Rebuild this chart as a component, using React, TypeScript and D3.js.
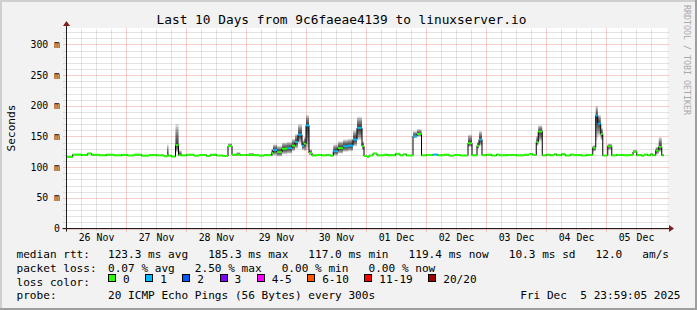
import React from "react";
import * as d3 from "d3";

// ---------- DATA ----------
const titleText = "Last 10 Days from 9c6faeae4139 to linuxserver.io";
const yAxisLabel = "Seconds";
const watermark = "RRDTOOL / TOBI OETIKER";

const startDate = new Date(2025, 10, 26, 0, 0, 0);
const endDate = new Date(2025, 11, 6, 0, 0, 0);

// step segments: start hour (since 26 Nov 00:00), median rtt (ms), lost pings (of 20), smoke spread up/down (ms)
const segStart = [
  0, 2.5, 6, 8.5, 10, 13, 16, 19, 22, 24.5, 27, 30, 33, 36, 39, 40.2, 40.8, 42, 43.6, 44.8,
  46, 48, 51, 53, 56, 57.5, 60, 62.5, 64.6, 66.2, 68, 69.5, 72, 73, 75, 77, 79, 82, 82.6, 84.2,
  86.2, 88.2, 90.2, 91.4, 92.6, 94.2, 95.0, 95.8, 97.0, 98.2, 100.2, 102, 104, 105.5, 106.7, 108.6, 110.6, 112.6, 114.6, 116.2,
  118.2, 119.0, 120.2, 121, 122.6, 124.2, 127, 128.5, 131.6, 133.4, 134.6, 136, 138.6, 140.2, 142, 144, 146.5, 148.5, 151, 153,
  155, 157.5, 160.6, 162.2, 164.2, 165.0, 166.2, 168, 170, 172, 173, 176, 180, 183, 185, 186.5, 187.9, 188.7, 190.3, 192,
  193.5, 195, 196, 198, 199.5, 201.5, 203, 206, 208, 210.5, 211.7, 212.5, 213.7, 214.5, 216.5, 218.1, 220, 223, 225, 226.6,
  228.1, 230, 231, 232.5, 233.6, 234.5, 235.7, 236.9, 238.1,
];
const segEndHour = 238.9;
const segMedian = [
  116.8, 120.5, 119.8, 122.3, 120.2, 119.3, 120.3, 119.2, 120.0, 119.0, 120.3, 118.8, 119.6, 119.2, 117.8, 119.0, 118.8, 117.3, 136.0, 119.5,
  119.2, 120.3, 118.8, 119.8, 118.3, 120.0, 119.0, 118.2, 134.5, 120.3, 120.3, 119.8, 120.0, 120.0, 119.5, 118.8, 119.6, 123.0, 128.0, 124.5,
  130.0, 131.0, 135.0, 141.0, 153.0, 135.0, 138.0, 168.0, 123.0, 119.0, 119.8, 119.2, 119.9, 118.8, 126.0, 131.0, 134.0, 135.0, 145.0, 164.0,
  134.0, 118.3, 116.5, 119.0, 122.3, 119.2, 120.3, 119.3, 121.8, 119.2, 120.8, 119.0, 150.5, 154.0, 119.2, 119.8, 120.5, 119.3, 120.3, 118.8,
  119.8, 119.0, 139.0, 119.3, 135.0, 145.0, 119.5, 120.2, 119.0, 120.6, 119.3, 119.6, 119.2, 120.2, 121.3, 119.8, 141.0, 158.0, 119.2, 120.3,
  119.3, 121.0, 119.6, 121.0, 119.0, 120.5, 119.6, 119.0, 120.0, 131.6, 184.0, 171.0, 154.0, 119.0, 134.0, 119.2, 120.0, 119.3, 120.0, 125.0,
  119.5, 118.8, 120.5, 119.2, 121.0, 119.3, 127.0, 133.0, 119.4,
];
const segLoss = [
  0, 0, 0, 0, 0, 0, 0, 0, 0, 0, 0, 0, 0, 0, 0, 0, 0, 0, 0, 0,
  0, 0, 0, 0, 0, 0, 0, 0, 0, 0, 0, 0, 0, 0, 0, 0, 0, 0, 1, 0,
  0, 1, 0, 1, 1, 1, 0, 1, 0, 0, 0, 0, 0, 0, 1, 0, 1, 1, 1, 1,
  0, 0, 0, 0, 0, 0, 0, 0, 0, 0, 0, 0, 1, 0, 0, 0, 1, 0, 0, 0,
  0, 0, 0, 0, 0, 1, 0, 0, 0, 0, 0, 0, 0, 0, 0, 0, 0, 0, 0, 0,
  0, 0, 0, 0, 0, 0, 0, 0, 0, 0, 1, 1, 0, 0, 0, 0, 0, 0, 0, 0,
  0, 0, 0, 0, 0, 0, 0, 0, 0,
];
const segUp = [
  1, 1, 1, 1, 1, 1, 1, 1, 1, 1, 1, 1, 1, 1, 1, 18, 1, 1, 34, 8,
  1, 1, 1, 1, 1, 2, 1, 1, 4, 1, 4, 1, 1, 3, 1, 1, 1, 7, 9, 10,
  10, 10, 11, 13, 17, 9, 11, 17, 6, 2, 1, 1, 1, 1, 11, 11, 11, 11, 15, 18,
  8, 2, 1, 1, 1, 1, 1, 1, 1, 1, 1, 1, 8, 8, 1, 1, 1, 1, 1, 1,
  1, 1, 14, 1, 6, 14, 1, 1, 1, 1, 1, 1, 1, 1, 1, 1, 10, 10, 1, 1,
  1, 1, 1, 1, 1, 1, 1, 1, 1, 4, 16, 14, 10, 1, 4, 1, 1, 1, 1, 3,
  1, 1, 1, 1, 1, 1, 6, 16, 1,
];
const segDown = [
  1, 1, 1, 1, 1, 1, 1, 1, 1, 1, 1, 1, 1, 1, 1, 2, 1, 1, 12, 1,
  1, 1, 1, 1, 1, 1, 1, 1, 2, 1, 1, 1, 1, 1, 1, 1, 1, 5, 9, 7,
  9, 9, 9, 11, 14, 7, 12, 40, 3, 1, 1, 1, 1, 1, 7, 9, 9, 9, 11, 20,
  6, 1, 1, 1, 1, 1, 1, 1, 1, 1, 1, 1, 3, 4, 1, 1, 1, 1, 1, 1,
  1, 1, 6, 1, 5, 10, 1, 1, 1, 1, 1, 1, 1, 1, 1, 1, 6, 16, 1, 1,
  1, 1, 1, 1, 1, 1, 1, 1, 1, 6, 40, 20, 10, 1, 6, 1, 1, 1, 1, 1,
  1, 1, 1, 1, 1, 1, 6, 8, 1,
];

const yMajorTicks = [0, 50, 100, 150, 200, 250, 300];
const yTickLabels = ["0", "50 m", "100 m", "150 m", "200 m", "250 m", "300 m"];

const lossLabels = ["0", "1", "2", "3", "4-5", "6-10", "11-19", "20/20"];
const lossUpper = [0, 1, 2, 3, 5, 10, 19, 20];
const lossColors = ["#26ff00", "#00b8ff", "#0059ff", "#7e00ff", "#ff00ff", "#ff5500", "#ff0000", "#a10000"];

const legendRowLabels = ["median rtt:", "packet loss:", "loss color:", "probe:"];
const rttStats = "123.3 ms avg   185.3 ms max   117.0 ms min   119.4 ms now   10.3 ms sd   12.0   am/s";
const lossStats = "0.07 % avg   2.50 % max   0.00 % min   0.00 % now";
const probeText = "20 ICMP Echo Pings (56 Bytes) every 300s";
const dateText = "Fri Dec  5 23:59:05 2025";

// ---------- LAYOUT ----------
const W = 697;
const H = 310;
const X0 = 66.5;
const X1 = 666.5;
const YB = 228.5;
const YT = 28.5;
const FONT = "'DejaVu Sans Mono', monospace";
const CHAR = 6.67;

export default function App() {
  const hourToDate = (h: number) => new Date(startDate.getTime() + h * 3600 * 1000);
  const x = d3.scaleTime().domain([startDate, endDate]).range([X0, X1]);
  const y = d3.scaleLinear().domain([0, 326]).range([YB, YT]);

  const minorX = d3.timeHour.every(6)!.range(startDate, endDate).filter((d) => d.getHours() !== 0);
  const majorX = d3.timeDay.range(startDate, endDate);
  const labelX = majorX.map((d) => d3.timeHour.offset(d, 12));
  const fmt = d3.timeFormat("%d %b");
  const minorY = d3.range(10, 330, 10).filter((v) => v % 50 !== 0);
  const majorY = yMajorTicks;

  const segs = segStart.map((s, i) => ({
    x0: x(hourToDate(s)),
    x1: x(hourToDate(i + 1 < segStart.length ? segStart[i + 1] : segEndHour)),
    m: segMedian[i],
    loss: segLoss[i],
    up: segUp[i],
    down: segDown[i],
  }));

  const stepPts: [number, number][] = segStart.map((s, i) => [x(hourToDate(s)), y(segMedian[i])]);
  stepPts.push([x(hourToDate(segEndHour)), y(segMedian[segMedian.length - 1])]);
  const stepPath = d3.line().curve(d3.curveStepAfter)(stepPts) || "";

  const lossColor = (n: number) => lossColors[lossUpper.findIndex((u) => n <= u)];

  const smokeLayers = d3.range(1, 9);

  // legend boxes layout
  let bx = 108;
  const boxes = lossLabels.map((lab, i) => {
    const item = { bx, lx: bx + 15, lab, col: lossColors[i] };
    bx = bx + 15 + lab.length * CHAR + 15.5;
    return item;
  });

  const gridMinor = "rgba(143,143,143,0.5)";
  const gridMajor = "rgba(222,79,79,0.55)";

  return (
    <svg
      width={W}
      height={H}
      style={{ position: "absolute", left: 0, top: 0, display: "block" }}
      fontFamily={FONT}
    >
      <rect x={0} y={0} width={W} height={H} fill="#f2f2f2" />
      {/* frame shading */}
      <path d={`M0,0 H${W} V2 H2 V${H} H0 Z`} fill="#cfcfcf" />
      <path d={`M${W},${H} H0 V${H - 2} H${W - 2} V0 H${W} Z`} fill="#9e9e9e" />

      {/* canvas */}
      <rect x={X0} y={YT - 0.5} width={X1 - X0 + 1} height={YB - YT + 0.5} fill="#ffffff" />

      {/* minor grid */}
      {minorY.map((v) => (
        <line key={"my" + v} x1={X0 - 3} x2={X1 + 2} y1={Math.round(y(v)) + 0.5} y2={Math.round(y(v)) + 0.5}
          stroke={gridMinor} strokeDasharray="1,1" />
      ))}
      {minorX.map((d, i) => (
        <line key={"mx" + i} x1={Math.round(x(d) - 0.5) + 0.5} x2={Math.round(x(d) - 0.5) + 0.5} y1={YB + 2} y2={YT}
          stroke={gridMinor} strokeDasharray="1,1" />
      ))}
      {/* major grid */}
      {majorY.map((v) => (
        <line key={"My" + v} x1={X0 - 3} x2={X1 + 2} y1={Math.round(y(v)) + 0.5} y2={Math.round(y(v)) + 0.5}
          stroke={gridMajor} strokeDasharray="1,1" />
      ))}
      {majorX.map((d, i) => (
        <line key={"Mx" + i} x1={Math.round(x(d) - 0.5) + 0.5} x2={Math.round(x(d) - 0.5) + 0.5} y1={YB + 3} y2={YT}
          stroke={gridMajor} strokeDasharray="1,1" />
      ))}

      {/* smoke */}
      {segs.map((s, i) =>
        smokeLayers.map((k) => {
          const top = y(s.m + (s.up * k) / 8);
          const bot = y(s.m - (s.down * k) / 8);
          return (
            <rect key={`s${i}-${k}`} x={s.x0} y={top} width={s.x1 - s.x0} height={Math.max(0, bot - top)}
              fill="#000" fillOpacity={0.15} />
          );
        })
      )}

      {/* median step line */}
      <path d={stepPath} fill="none" stroke="#000" strokeWidth={1} />
      {segs.map((s, i) => (
        <line key={"c" + i} x1={s.x0} x2={s.x1} y1={y(s.m)} y2={y(s.m)} stroke={lossColor(s.loss)} strokeWidth={2} />
      ))}

      {/* axes */}
      <line x1={X0 - 4} x2={X1 + 3} y1={YB} y2={YB} stroke="#1f1f1f" strokeWidth={1} />
      <line x1={X0} x2={X0} y1={YB + 3} y2={YT - 5} stroke="#1f1f1f" strokeWidth={1} />
      <path d={`M${X1 + 7.5},${YB} L${X1 + 2.5},${YB - 3.5} L${X1 + 2.5},${YB + 3.5} Z`} fill="#801f1f" />
      <path d={`M${X0},${YT - 7.5} L${X0 - 3.5},${YT - 2.5} L${X0 + 3.5},${YT - 2.5} Z`} fill="#801f1f" />

      {/* y tick labels */}
      {majorY.map((v, i) => (
        <text key={"yl" + v} x={60} y={y(v) + 3.6} textAnchor="end" fontSize={9.8} fill="#000">
          {yTickLabels[i]}
        </text>
      ))}
      {/* x labels */}
      {labelX.map((d, i) => (
        <text key={"xl" + i} x={x(d)} y={241} textAnchor="middle" fontSize={9.9} fill="#000">
          {fmt(d)}
        </text>
      ))}

      {/* title */}
      <text x={341.5} y={24} textAnchor="middle" fontSize={12.8} fill="#000" style={{ whiteSpace: "pre" }}>
        {titleText}
      </text>
      {/* y label */}
      <text transform="translate(15,128) rotate(-90)" textAnchor="middle" fontSize={11.1} fill="#000">
        {yAxisLabel}
      </text>
      {/* watermark */}
      <text transform="translate(684,5) rotate(90)" textAnchor="start" fontSize={8.3} fill="#a8a8a8">
        {watermark}
      </text>

      {/* legend */}
      <g fontSize={11.1} fill="#000" style={{ whiteSpace: "pre" }}>
        <text x={16.5} y={257.5} xmlSpace="preserve">{legendRowLabels[0]}</text>
        <text x={108} y={257.5} xmlSpace="preserve">{rttStats}</text>
        <text x={16.5} y={271.5} xmlSpace="preserve">{legendRowLabels[1]}</text>
        <text x={108} y={271.5} xmlSpace="preserve">{lossStats}</text>
        <text x={16.5} y={285.5} xmlSpace="preserve">{legendRowLabels[2]}</text>
        {boxes.map((b, i) => (
          <g key={"lb" + i}>
            <rect x={Math.round(b.bx) + 0.5} y={274.5} width={7} height={7} fill={b.col} stroke="#000" strokeWidth={1} />
            <text x={b.lx} y={283}>{b.lab}</text>
          </g>
        ))}
        <text x={16.5} y={299} xmlSpace="preserve">{legendRowLabels[3]}</text>
        <text x={108} y={299} xmlSpace="preserve">{probeText}</text>
        <text x={680.5} y={299} textAnchor="end" xmlSpace="preserve">{dateText}</text>
      </g>
    </svg>
  );
}
